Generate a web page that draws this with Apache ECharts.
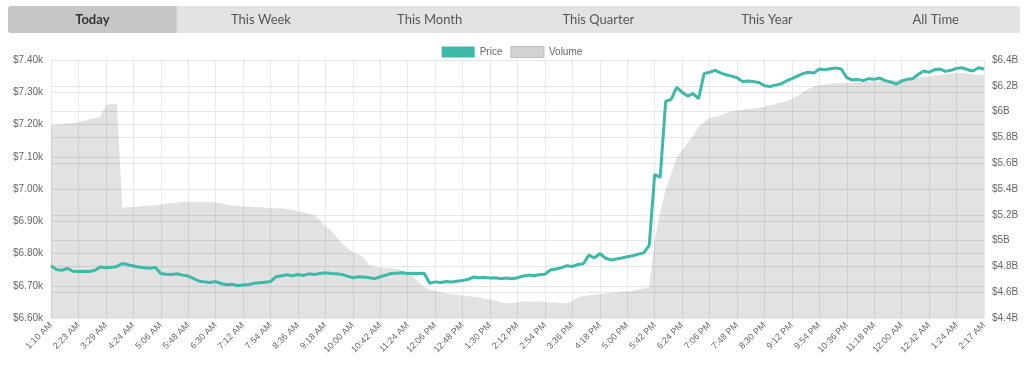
<!DOCTYPE html>
<html>
<head>
<meta charset="utf-8">
<script src="https://cdn.jsdelivr.net/npm/echarts@6/dist/echarts.min.js"></script>
<style>
html,body{margin:0;padding:0;background:#fff;}
#chart{width:1024px;height:368px;}
</style>
</head>
<body>
<div id="chart"></div>
<script>
// Tab labels
const tabs = ['Today', 'This Week', 'This Month', 'This Quarter', 'This Year', 'All Time'];
// X tick labels (every 5th sample)
const tickLabels = ['1:10 AM','2:23 AM','3:29 AM','4:24 AM','5:06 AM','5:48 AM','6:30 AM','7:12 AM','7:54 AM','8:36 AM','9:18 AM','10:00 AM','10:42 AM','11:24 AM','12:06 PM','12:48 PM','1:30 PM','2:12 PM','2:54 PM','3:36 PM','4:18 PM','5:00 PM','5:42 PM','6:24 PM','7:06 PM','7:48 PM','8:30 PM','9:12 PM','9:54 PM','10:36 PM','11:18 PM','12:00 AM','12:42 AM','1:24 AM','2:17 AM'];
const samplesPerTick = 5;
// Price in USD
const price = [
6762,6750,6748,6754,6745,6744,6745,6744,6748,6758,
6756,6757,6760,6769,6765,6761,6758,6756,6754,6757,
6738,6736,6735,6737,6733,6730,6722,6714,6712,6710,
6713,6707,6703,6705,6700,6702,6704,6708,6709,6711,
6713,6728,6731,6734,6731,6735,6732,6737,6735,6738,
6740,6738,6737,6735,6730,6725,6728,6727,6725,6722,
6728,6733,6738,6739,6740,6738,6739,6738,6739,6708,
6712,6710,6713,6712,6714,6716,6720,6727,6725,6726,
6724,6725,6722,6724,6722,6725,6730,6733,6731,6734,
6736,6749,6752,6756,6762,6760,6766,6768,6795,6786,
6800,6786,6780,6783,6786,6790,6793,6798,6802,6825,
7045,7036,7272,7278,7315,7300,7288,7296,7280,7358,
7362,7368,7360,7354,7350,7345,7333,7335,7333,7330,
7320,7318,7322,7326,7335,7342,7350,7358,7362,7360,
7372,7370,7373,7375,7372,7345,7338,7340,7336,7342,
7340,7344,7336,7332,7325,7335,7340,7342,7355,7366,
7362,7370,7372,7365,7368,7374,7376,7370,7366,7376,
7372];
// Volume in billions USD
const volume = [
5.89,5.90,5.90,5.91,5.91,5.92,5.93,5.94,5.95,5.96,
6.05,6.06,6.06,5.25,5.26,5.26,5.265,5.27,5.27,5.275,
5.28,5.285,5.29,5.295,5.30,5.30,5.30,5.30,5.30,5.30,
5.295,5.29,5.28,5.27,5.27,5.265,5.265,5.26,5.26,5.255,
5.25,5.25,5.25,5.245,5.24,5.23,5.22,5.21,5.195,5.16,
5.11,5.08,5.03,4.98,4.94,4.91,4.89,4.87,4.81,4.795,
4.79,4.79,4.785,4.78,4.77,4.74,4.72,4.68,4.64,4.62,
4.61,4.60,4.59,4.585,4.58,4.575,4.57,4.565,4.56,4.55,
4.545,4.535,4.52,4.515,4.515,4.52,4.53,4.53,4.525,4.53,
4.525,4.52,4.52,4.515,4.515,4.53,4.56,4.57,4.575,4.58,
4.585,4.59,4.595,4.60,4.605,4.605,4.61,4.62,4.63,4.64,
5.00,5.22,5.40,5.52,5.64,5.70,5.76,5.81,5.88,5.92,
5.95,5.96,5.97,5.99,6.00,6.01,6.015,6.02,6.025,6.03,
6.04,6.05,6.06,6.07,6.08,6.10,6.12,6.15,6.175,6.195,
6.205,6.21,6.215,6.22,6.22,6.22,6.22,6.225,6.23,6.23,
6.235,6.235,6.24,6.24,6.245,6.25,6.255,6.26,6.265,6.27,
6.275,6.28,6.285,6.29,6.295,6.30,6.30,6.295,6.29,6.285,
6.285];

const chart = echarts.init(document.getElementById('chart'));
const axisFont = '"Liberation Sans", Arial, sans-serif';
const uiFont = 'Lato, "Open Sans", sans-serif';

const tabLeft = 8, tabRight = 1020, tabTop = 6, tabH = 27;
const tabW = (tabRight - tabLeft) / tabs.length;
const graphics = [
  {type:'rect', shape:{x:tabLeft, y:tabTop, width:tabRight-tabLeft, height:tabH, r:3}, style:{fill:'#e3e3e3'}, silent:true},
  {type:'rect', shape:{x:tabLeft, y:tabTop, width:tabW, height:tabH, r:[3,0,0,3]}, style:{fill:'#c6c6c6'}, silent:true}
];
tabs.forEach((t, i) => {
  graphics.push({type:'text', x: tabLeft + tabW*(i+0.5), y: tabTop + tabH/2,
    style:{text:t, fill: i===0 ? '#333' : '#555', font: (i===0?'bold ':'') + '13px ' + uiFont, align:'center', verticalAlign:'middle'}, silent:true});
});

chart.setOption({
  animation: false,
  graphic: graphics,
  legend: {
    top: 41, left: 'center',
    itemWidth: 33, itemHeight: 11, itemGap: 8,
    icon: 'rect',
    textStyle: {color:'#666', fontSize:10, fontFamily: axisFont},
    data: [
      {name:'Price', itemStyle:{color:'#3db9a9'}},
      {name:'Volume', itemStyle:{color:'#d2d2d2', borderColor:'#bdbdbd', borderWidth:1}}
    ]
  },
  grid: {left: 51, right: 40, top: 60, bottom: 50},
  xAxis: {
    type: 'value', min: 0, max: (tickLabels.length-1)*samplesPerTick, interval: samplesPerTick,
    axisLine:{show:false}, axisTick:{show:false},
    splitLine:{show:true, lineStyle:{color:'#e8e8e8', width:1}},
    axisLabel:{rotate:45, margin:6, fontSize:9, color:'#666', fontFamily:axisFont,
      formatter: v => tickLabels[Math.round(v/samplesPerTick)] || ''}
  },
  yAxis: [
    {type:'value', min:6600, max:7400, interval:100, position:'left',
      axisLine:{show:false}, axisTick:{show:false},
      splitLine:{lineStyle:{color:'#e6e6e6'}},
      axisLabel:{fontSize:10, color:'#666', fontFamily:axisFont, margin:8,
        formatter: v => '$' + (v/1000).toFixed(2) + 'k'}},
    {type:'value', min:4.4, max:6.4, interval:0.2, position:'right',
      axisLine:{show:false}, axisTick:{show:false},
      splitLine:{lineStyle:{color:'#e6e6e6'}},
      axisLabel:{fontSize:10, color:'#666', fontFamily:axisFont, margin:8,
        formatter: v => '$' + (+v.toFixed(1)) + 'B'}}
  ],
  series: [
    {name:'Volume', type:'line', yAxisIndex:1, showSymbol:false, symbol:'none',
      lineStyle:{width:0}, itemStyle:{color:'#d2d2d2'},
      areaStyle:{color:'rgba(0,0,0,0.16)', origin:'start'},
      data: volume.map((v,i)=>[i,v]), z:1},
    {name:'Price', type:'line', yAxisIndex:0, showSymbol:false, symbol:'none',
      lineStyle:{width:3, color:'#3db9a9'}, itemStyle:{color:'#3db9a9'},
      data: price.map((v,i)=>[i,v]), z:3}
  ]
});
</script>
</body>
</html>
